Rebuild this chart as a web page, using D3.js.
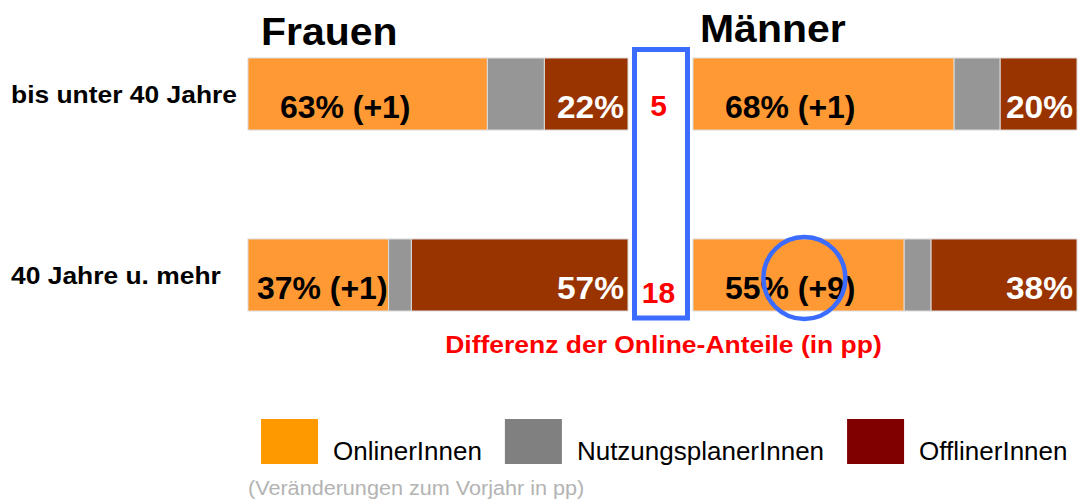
<!DOCTYPE html>
<html>
<head>
  <meta charset="utf-8">
  <style>
  body {
    margin: 0;
    background: #fff;
    font-family: "Liberation Sans", Arial, sans-serif;
  }
  svg text { font-family: "Liberation Sans", Arial, sans-serif; }
  .bold { font-weight: bold; }
  </style>
</head>
<body>
  <div id="chart"></div>
  <script src="https://cdnjs.cloudflare.com/ajax/libs/d3/7.8.5/d3.min.js"></script>
  <script>
  // data
  var panels = ["Frauen", "Männer"];
  var ages = ["bis unter 40 Jahre", "40 Jahre u. mehr"];
  var segments = ["OnlinerInnen", "NutzungsplanerInnen", "OfflinerInnen"];

  var onlineFrauen = [63, 37];
  var planerFrauen = [15, 6];
  var offlineFrauen = [22, 57];
  var changeFrauen = ["+1", "+1"];

  var onlineMaenner = [68, 55];
  var planerMaenner = [12, 7];
  var offlineMaenner = [20, 38];
  var changeMaenner = ["+1", "+9"];

  var onlineDiff = [5, 18];
  var diffLabel = "Differenz der Online-Anteile (in pp)";
  var footnote = "(Veränderungen zum Vorjahr in pp)";

  var barColors = ["#ff9933", "#969696", "#993300"];
  var legendColors = ["#ff9900", "#808080", "#800000"];

  var width = 1081, height = 503;

  var svg = d3.select("#chart").append("svg")
      .attr("width", width)
      .attr("height", height);

  // widen text a little, the original font runs wider than Liberation Sans
  function stretch(sel, k) {
    sel.each(function(){
      var w = this.getComputedTextLength();
      d3.select(this)
        .attr("textLength", w * k)
        .attr("lengthAdjust", "spacingAndGlyphs");
    });
  }

  // scales
  var x = {
    "Frauen": d3.scaleLinear().domain([0, 100]).range([248, 628]),
    "Männer": d3.scaleLinear().domain([0, 100]).range([693, 1077])
  };

  var y = d3.scaleBand()
    .domain(ages)
    .range([58, 311])
    .paddingInner(0.602)
    .paddingOuter(0);

  var color = d3.scaleOrdinal().domain(segments).range(barColors);

  function rows(panel) {
    var on = panel == "Frauen" ? onlineFrauen : onlineMaenner;
    var pl = panel == "Frauen" ? planerFrauen : planerMaenner;
    var off = panel == "Frauen" ? offlineFrauen : offlineMaenner;
    var ch = panel == "Frauen" ? changeFrauen : changeMaenner;
    return ages.map(function(a, i){
      return {panel: panel, age: a, values: [on[i], pl[i], off[i]], change: ch[i]};
    });
  }

  var data = [].concat(rows("Frauen"), rows("Männer"));

  // segments
  var bar = svg.selectAll("g.bar")
      .data(data)
    .enter().append("g")
      .attr("class", "bar");

  bar.selectAll("rect")
      .data(function(d){
        var acc = 0;
        return d.values.map(function(v, i){
          var s = {panel: d.panel, age: d.age, key: segments[i], x0: acc, x1: acc + v};
          acc += v;
          return s;
        });
      })
    .enter().append("rect")
      .attr("x", function(d){ return x[d.panel](d.x0); })
      .attr("y", function(d){ return y(d.age); })
      .attr("width", function(d){ return x[d.panel](d.x1) - x[d.panel](d.x0); })
      .attr("height", y.bandwidth())
      .style("fill", function(d){ return color(d.key); })
      .style("stroke", "#dcdcdc")
      .style("stroke-width", 1);

  // online labels
  bar.append("text")
      .attr("class", "bold online")
      .attr("y", function(d){ return y(d.age) + y.bandwidth() - 12; })
      .style("font-size", "31px")
      .style("fill", "#000")
      .text(function(d){ return d.values[0] + "% (" + d.change + ")"; })
      .call(stretch, 1.03)
      .attr("x", function(d){
        var x0 = x[d.panel](0);
        var segW = x[d.panel](d.values[0]) - x0;
        var tw = +d3.select(this).attr("textLength");
        return x0 + Math.min(32, (segW - tw) / 2 + 4);
      });

  // offline labels
  bar.append("text")
      .attr("class", "bold")
      .attr("x", function(d){ return x[d.panel](100) - 4; })
      .attr("y", function(d){ return y(d.age) + y.bandwidth() - 12; })
      .style("font-size", "31px")
      .style("text-anchor", "end")
      .style("fill", "#fff")
      .text(function(d){ return d.values[2] + "%"; })
      .call(stretch, 1.08);

  // panel titles
  svg.selectAll("text.title")
      .data(panels)
    .enter().append("text")
      .attr("class", "title bold")
      .attr("x", function(d, i){ return x[d](0) + (i == 0 ? 13 : 7); })
      .attr("y", function(d, i){ return i == 0 ? 45 : 42; })
      .style("font-size", "39px")
      .text(function(d){ return d; })
      .call(stretch, 1.05);

  // row labels
  svg.selectAll("text.age")
      .data(ages)
    .enter().append("text")
      .attr("class", "age bold")
      .attr("x", 11)
      .attr("y", function(d){ return y(d) + y.bandwidth() / 2 + 9; })
      .style("font-size", "24px")
      .text(function(d){ return d; })
      .call(stretch, 1.1);

  // difference column
  var midX = (x["Frauen"](100) + x["Männer"](0)) / 2;

  svg.selectAll("text.diff")
      .data(onlineDiff)
    .enter().append("text")
      .attr("class", "diff bold")
      .attr("x", midX - 2)
      .attr("y", function(d, i){ return y(ages[i]) + y.bandwidth() - (i == 0 ? 14 : 8); })
      .style("font-size", "30px")
      .style("text-anchor", "middle")
      .style("fill", "#ff0000")
      .text(function(d){ return d; });

  svg.append("rect")
      .attr("x", x["Frauen"](100) + 6.5)
      .attr("y", y(ages[0]) - 8.5)
      .attr("width", 53)
      .attr("height", y(ages[1]) + y.bandwidth() + 7 - y(ages[0]) + 8.5)
      .style("fill", "none")
      .style("stroke", "#3c6cff")
      .style("stroke-width", 5);

  svg.append("text")
      .attr("class", "bold")
      .attr("x", midX + 3)
      .attr("y", 353)
      .style("font-size", "23px")
      .style("text-anchor", "middle")
      .style("fill", "#ff0000")
      .text(diffLabel)
      .call(stretch, 1.15);

  // highlight circle around the men's 40+ change
  svg.append("circle")
      .attr("cx", x["Männer"](29))
      .attr("cy", y(ages[1]) + y.bandwidth() / 2 + 3)
      .attr("r", 41)
      .style("fill", "none")
      .style("stroke", "#3c6cff")
      .style("stroke-width", 4.5);

  // legend
  var legend = svg.append("g").attr("class", "legend");
  var lx = 261;
  segments.forEach(function(s, i){
    legend.append("rect")
        .attr("x", lx)
        .attr("y", 419)
        .attr("width", 57)
        .attr("height", 45)
        .style("fill", legendColors[i]);
    var t = legend.append("text")
        .attr("x", lx + 57 + 15)
        .attr("y", 460)
        .style("font-size", "26px")
        .style("fill", "#000")
        .text(s);
    lx = lx + 57 + 15 + t.node().getComputedTextLength() + 23;
  });

  svg.append("text")
      .attr("x", 248)
      .attr("y", 495)
      .style("font-size", "20px")
      .style("fill", "#b3b3b3")
      .text(footnote)
      .call(stretch, 1.08);
  </script>
</body>
</html>
